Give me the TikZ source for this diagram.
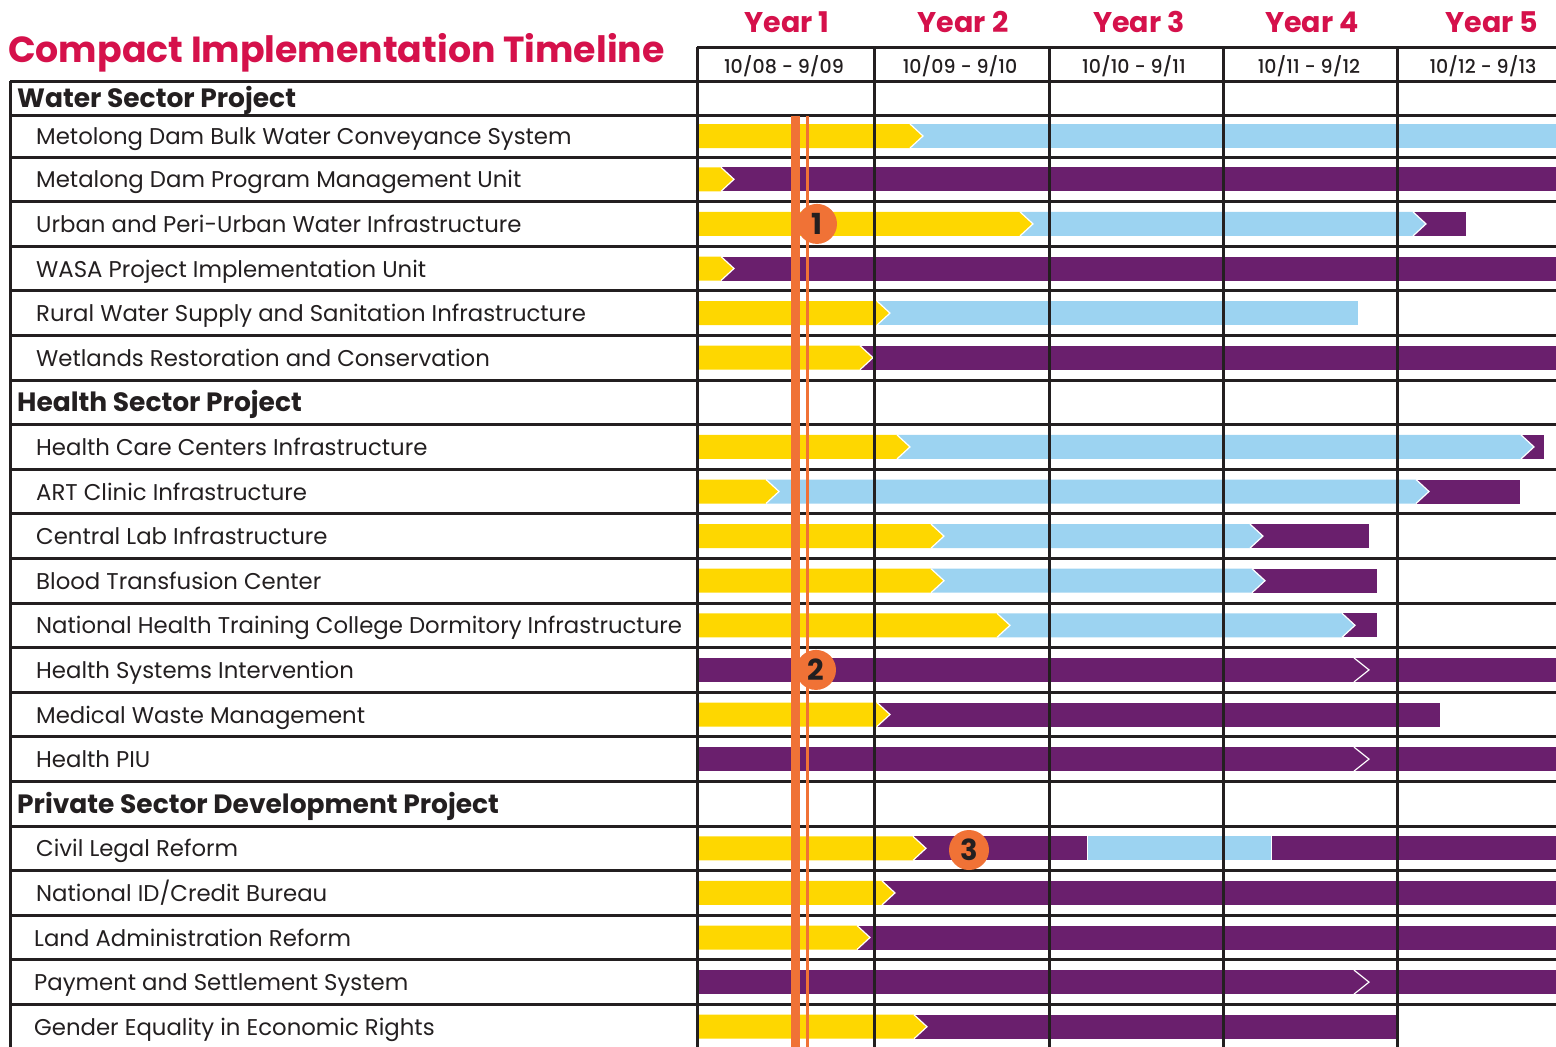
\documentclass[tikz,border=0pt]{standalone}
\usepackage{fontspec}
\setmainfont{Poppins}
\newfontfamily\medfont{Poppins Medium}
\usetikzlibrary{positioning}

\definecolor{tlred}{HTML}{D5114B}
\definecolor{tlyellow}{HTML}{FED700}
\definecolor{tlblue}{HTML}{9CD3F1}
\definecolor{tlpurple}{HTML}{6A1F6D}
\definecolor{tlorange}{HTML}{F07236}
\definecolor{tlink}{HTML}{231F20}

% plain bar piece: colour, from, to, row centre
\newcommand{\barpiece}[4]{\fill[#1] (#2,#4-12) rectangle (#3,#4+12);}
% bar piece ending in a chevron tip
\newcommand{\barhead}[4]{%
  \fill[#1] (#2,#4-12) -- (#3,#4-12) -- (#3+13,#4) -- (#3,#4+12) -- (#2,#4+12) -- cycle;
  \draw[white, line width=1.2] (#3,#4-12) -- (#3+13,#4) -- (#3,#4+12);}
% open chevron mark inside a bar
\newcommand{\barmark}[2]{\draw[white, line width=1.2] (#1,#2-12) -- (#1+15,#2) -- (#1,#2+12);}

\tikzset{
  rowlabel/.style={anchor=base west, inner sep=0, text=tlink, font=\fontsize{22.8}{26}\selectfont},
  grouplabel/.style={anchor=base west, inner sep=0, text=tlink, font=\fontsize{26.5}{30}\selectfont\bfseries},
  yearlabel/.style={anchor=base, inner sep=0, text=tlred, font=\fontsize{28.5}{32}\selectfont\bfseries},
  datelabel/.style={anchor=base, inner sep=0, text=tlink, font=\fontsize{19}{22}\medfont},
  gridline/.style={tlink, line width=3},
  numdot/.style={circle, fill=tlorange, minimum size=40, inner sep=0, text=tlink, font=\fontsize{29}{30}\selectfont\bfseries}
}

\begin{document}
\begin{tikzpicture}[x=1pt, y=-1pt]
  \useasboundingbox (0,0) rectangle (1556,1047);

  % Title
  \node[anchor=base west, inner sep=0, text=tlred, font=\fontsize{36.3}{40}\selectfont\bfseries] (title) at (8,62) {Compact Implementation Timeline};

  % Years and periods
  \node[yearlabel] (y1) at (787,32) {Year 1};
  \node[yearlabel] (y2) at (963,32) {Year 2};
  \node[yearlabel] (y3) at (1139,32) {Year 3};
  \node[yearlabel] (y4) at (1312,32) {Year 4};
  \node[yearlabel] (y5) at (1492,32) {Year 5};
  \node[datelabel] (d1) at (784,73) {10/08 - 9/09};
  \node[datelabel] (d2) at (960,73) {10/09 - 9/10};
  \node[datelabel] (d3) at (1134,73) {10/10 - 9/11};
  \node[datelabel] (d4) at (1309,73) {10/11 - 9/12};
  \node[datelabel] (d5) at (1483,73) {10/12 - 9/13};

  % Water sector
  \node[grouplabel] (water) at (17,107.5) {Water Sector Project};
  \node[rowlabel] (w1) at (36,144.5) {Metolong Dam Bulk Water Conveyance System};
  \node[rowlabel] (w2) at (36,187.8) {Metalong Dam Program Management Unit};
  \node[rowlabel] (w3) at (36,232.4) {Urban and Peri-Urban Water Infrastructure};
  \node[rowlabel] (w4) at (36,277) {WASA Project Implementation Unit};
  \node[rowlabel] (w5) at (36,321.6) {Rural Water Supply and Sanitation Infrastructure};
  \node[rowlabel] (w6) at (36,366.2) {Wetlands Restoration and Conservation};

  % Health sector
  \node[grouplabel] (health) at (17,411.8) {Health Sector Project};
  \node[rowlabel] (h1) at (36,455.4) {Health Care Centers Infrastructure};
  \node[rowlabel] (h2) at (36,500) {ART Clinic Infrastructure};
  \node[rowlabel] (h3) at (36,544.6) {Central Lab Infrastructure};
  \node[rowlabel] (h4) at (36,589.2) {Blood Transfusion Center};
  \node[rowlabel] (h5) at (36,633.8) {National Health Training College Dormitory Infrastructure};
  \node[rowlabel] (h6) at (36,678.4) {Health Systems Intervention};
  \node[rowlabel] (h7) at (36,723) {Medical Waste Management};
  \node[rowlabel] (h8) at (36,767.6) {Health PIU};

  % Private sector
  \node[grouplabel] (private) at (17,813.2) {Private Sector Development Project};
  \node[rowlabel] (p1) at (36,856.8) {Civil Legal Reform};
  \node[rowlabel] (p2) at (36,901.4) {National ID/Credit Bureau};
  \node[rowlabel] (p3) at (34,946) {Land Administration Reform};
  \node[rowlabel] (p4) at (34,990.6) {Payment and Settlement System};
  \node[rowlabel] (p5) at (34,1035.2) {Gender Equality in Economic Rights};

  % Bars, water
  \barpiece{tlblue}{910}{1556}{136}
  \barhead{tlyellow}{699}{910}{136}
  \barpiece{tlpurple}{721}{1556}{179.3}
  \barhead{tlyellow}{699}{721}{179.3}
  \barpiece{tlpurple}{1413}{1466}{223.9}
  \barhead{tlblue}{1020}{1413}{223.9}
  \barhead{tlyellow}{699}{1020}{223.9}
  \barpiece{tlpurple}{721}{1556}{268.5}
  \barhead{tlyellow}{699}{721}{268.5}
  \barpiece{tlblue}{877}{1358}{313.1}
  \barhead{tlyellow}{699}{877}{313.1}
  \barpiece{tlpurple}{860}{1556}{357.7}
  \barhead{tlyellow}{699}{860}{357.7}

  % Bars, health
  \barpiece{tlpurple}{1521}{1544}{446.9}
  \barhead{tlblue}{897}{1521}{446.9}
  \barhead{tlyellow}{699}{897}{446.9}
  \barpiece{tlpurple}{1416}{1520}{491.5}
  \barhead{tlblue}{766}{1416}{491.5}
  \barhead{tlyellow}{699}{766}{491.5}
  \barpiece{tlpurple}{1250}{1369}{536.1}
  \barhead{tlblue}{931}{1250}{536.1}
  \barhead{tlyellow}{699}{931}{536.1}
  \barpiece{tlpurple}{1252}{1377}{580.7}
  \barhead{tlblue}{931}{1252}{580.7}
  \barhead{tlyellow}{699}{931}{580.7}
  \barpiece{tlpurple}{1342}{1377}{625.3}
  \barhead{tlblue}{997}{1342}{625.3}
  \barhead{tlyellow}{699}{997}{625.3}
  \barpiece{tlpurple}{697}{1556}{669.9}
  \barmark{1354}{669.9}
  \barpiece{tlpurple}{877}{1440}{714.5}
  \barhead{tlyellow}{699}{877}{714.5}
  \barpiece{tlpurple}{697}{1556}{759.1}
  \barmark{1354}{759.1}

  % Bars, private sector
  \barpiece{tlpurple}{1272}{1556}{848.3}
  \barpiece{tlblue}{1088}{1271}{848.3}
  \barpiece{tlpurple}{913}{1087}{848.3}
  \barhead{tlyellow}{699}{913}{848.3}
  \barpiece{tlpurple}{882}{1556}{892.9}
  \barhead{tlyellow}{699}{882}{892.9}
  \barpiece{tlpurple}{857}{1556}{937.5}
  \barhead{tlyellow}{699}{857}{937.5}
  \barpiece{tlpurple}{697}{1556}{982.1}
  \barmark{1354}{982.1}
  \barpiece{tlpurple}{914}{1397}{1026.7}
  \barhead{tlyellow}{699}{914}{1026.7}

  % Grid
  \draw[gridline] (697,47) -- (1556,47);
  \draw[gridline] (10,81) -- (1556,81);
  \draw[gridline] (10,115) -- (1556,115);
  \foreach \k in {0,...,19}
    \draw[gridline] (10,157+44.6*\k) -- (1556,157+44.6*\k);
  \draw[gridline] (10,81) -- (10,1047);
  \foreach \x in {697,874,1049,1223,1397}
    \draw[gridline] (\x,47) -- (\x,1047);

  % Today line
  \draw[tlorange, line width=9] (795.5,116) -- (795.5,1047);
  \draw[tlorange, line width=3] (807.5,116) -- (807.5,1047);

  % Notes
  \node[numdot] (n1) at (817,223.9) {1};
  \node[numdot] (n2) at (816,669.9) {2};
  \node[numdot] (n3) at (969,850) {3};
\end{tikzpicture}
\end{document}
